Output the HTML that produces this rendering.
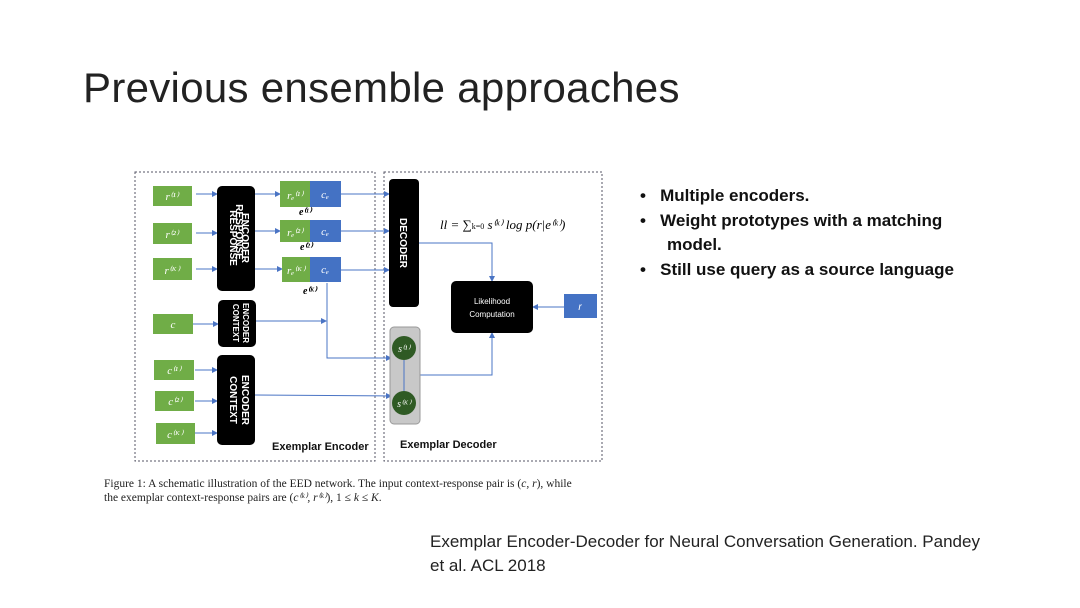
<!DOCTYPE html>
<html><head><meta charset="utf-8"><style>
body{margin:0;width:1080px;height:608px;background:#fff;position:relative;overflow:hidden;font-family:"Liberation Sans",sans-serif}
.t{position:absolute;white-space:nowrap}
</style></head><body>
<div class="t" style="left:83px;top:64px;font-size:42px;color:#222;font-weight:300;letter-spacing:0.3px">Previous ensemble approaches</div>
<svg width="1080" height="608" style="position:absolute;left:0;top:0" font-family="Liberation Serif, serif">
<defs><marker id="a" markerWidth="6" markerHeight="6" refX="5" refY="3" orient="auto"><path d="M0,0L6,3L0,6z" fill="#4a74c4"/></marker></defs>
<rect x="135" y="172" width="240" height="289" fill="none" stroke="#556" stroke-dasharray="2,2"/>
<rect x="384" y="172" width="218" height="289" fill="none" stroke="#556" stroke-dasharray="2,2"/>
<g stroke="#4a74c4" stroke-width="1" fill="none" marker-end="url(#a)">
<line x1="196" y1="194" x2="217" y2="194"/><line x1="196" y1="233" x2="217" y2="233"/><line x1="196" y1="269" x2="217" y2="269"/>
<line x1="255" y1="194" x2="280" y2="194"/><line x1="255" y1="231" x2="280" y2="231"/><line x1="255" y1="269" x2="282" y2="269"/>
<line x1="341" y1="194" x2="389" y2="194"/><line x1="341" y1="231" x2="389" y2="231"/><line x1="341" y1="270" x2="389" y2="270"/>
<line x1="193" y1="324" x2="218" y2="324"/><line x1="195" y1="370" x2="217" y2="370"/><line x1="195" y1="401" x2="217" y2="401"/><line x1="195" y1="433" x2="217" y2="433"/>
<polyline points="256,321 326,321"/>
<polyline points="327,283 327,358 391,358"/>
<polyline points="255,395 391,396"/>
<polyline points="419,243 492,243 492,281"/>
<polyline points="420,375 492,375 492,333"/>
<line x1="564" y1="307" x2="533" y2="307"/>
</g>
<g fill="#70ad47"><rect x="153" y="186" width="39" height="20"/><rect x="153" y="223" width="39" height="21"/><rect x="153" y="258" width="39" height="22"/>
<rect x="280" y="181" width="30" height="26"/><rect x="280" y="220" width="30" height="22"/><rect x="282" y="257" width="28" height="25"/>
<rect x="153" y="314" width="40" height="20"/><rect x="154" y="360" width="40" height="20"/><rect x="155" y="391" width="39" height="20"/><rect x="156" y="423" width="39" height="21"/></g>
<g fill="#4472c4"><rect x="310" y="181" width="31" height="26"/><rect x="310" y="220" width="31" height="22"/><rect x="310" y="257" width="31" height="25"/><rect x="564" y="294" width="33" height="24"/></g>
<g fill="#000"><rect x="217" y="186" width="38" height="105" rx="5"/><rect x="218" y="300" width="38" height="47" rx="5"/><rect x="217" y="355" width="38" height="90" rx="5"/>
<rect x="389" y="179" width="30" height="128" rx="4"/><rect x="451" y="281" width="82" height="52" rx="5"/></g>
<rect x="390" y="327" width="30" height="97" rx="4" fill="#c8c8c8" stroke="#999"/>
<line x1="404" y1="360" x2="404" y2="392" stroke="#4a74c4"/>
<circle cx="404" cy="348" r="12" fill="#2f5a24"/><circle cx="404" cy="403" r="12" fill="#2f5a24"/>
<g fill="#fff" font-family="Liberation Sans, sans-serif" font-weight="bold" font-size="10" text-anchor="middle">
<text transform="translate(236,238) rotate(90)" x="-6">RESPONSE</text><text transform="translate(236,238) rotate(90)" x="0" y="-11" dy="0"> </text>
<text transform="translate(230,238) rotate(90)">RESPONSE</text><text transform="translate(242,238) rotate(90)" y="0">ENCODER</text>
<text transform="translate(233,323) rotate(90)" font-size="8">CONTEXT</text><text transform="translate(243,323) rotate(90)" font-size="8">ENCODER</text>
<text transform="translate(230,400) rotate(90)">CONTEXT</text><text transform="translate(242,400) rotate(90)">ENCODER</text>
<text transform="translate(400,243) rotate(90)">DECODER</text>
<text x="492" y="304" font-size="8" font-weight="normal">Likelihood</text><text x="492" y="317" font-size="8" font-weight="normal">Computation</text>
<text x="580" y="310" font-style="italic" font-weight="normal">r</text></g>
<g fill="#fff" font-style="italic" font-size="11" text-anchor="middle">
<text x="172" y="200">r⁽¹⁾</text><text x="172" y="238">r⁽²⁾</text><text x="172" y="274">r⁽ᴷ⁾</text>
<text x="295" y="199">rₑ⁽¹⁾</text><text x="295" y="236">rₑ⁽²⁾</text><text x="296" y="274">rₑ⁽ᴷ⁾</text>
<text x="325" y="198">cₑ</text><text x="325" y="235">cₑ</text><text x="325" y="273">cₑ</text>
<text x="173" y="328">c</text><text x="174" y="374">c⁽¹⁾</text><text x="175" y="405">c⁽²⁾</text><text x="175" y="438">c⁽ᴷ⁾</text>
<text x="404" y="352" font-size="10">s⁽¹⁾</text><text x="404" y="407" font-size="10">s⁽ᴷ⁾</text></g>
<g font-style="italic" font-weight="bold" font-size="10" fill="#000"><text x="299" y="215">e⁽¹⁾</text><text x="300" y="250">e⁽²⁾</text><text x="303" y="294">e⁽ᴷ⁾</text></g>
<text x="440" y="229" font-size="13" font-style="italic">ll = ∑<tspan font-size="8" font-style="normal">k=0</tspan> s⁽ᵏ⁾ log p(r|e⁽ᵏ⁾)</text>
<g font-family="Liberation Sans, sans-serif" font-weight="bold" font-size="11" fill="#111"><text x="272" y="450">Exemplar Encoder</text><text x="400" y="448">Exemplar Decoder</text></g>
<g font-size="11.5" fill="#222"><text x="104" y="487">Figure 1: A schematic illustration of the EED network. The input context-response pair is (<tspan font-style="italic">c, r</tspan>), while</text>
<text x="104" y="501">the exemplar context-response pairs are (<tspan font-style="italic">c⁽ᵏ⁾, r⁽ᵏ⁾</tspan>), 1 ≤ <tspan font-style="italic">k</tspan> ≤ <tspan font-style="italic">K</tspan>.</text></g>
</svg>
<div class="t" style="left:640px;top:184px;font-size:17px;font-weight:bold;color:#111;line-height:24.5px">
<div>•&nbsp;&nbsp;&nbsp;Multiple encoders.</div>
<div>•&nbsp;&nbsp;&nbsp;Weight prototypes with a matching</div>
<div style="padding-left:27px">model.</div>
<div>•&nbsp;&nbsp;&nbsp;Still use query as a source language</div></div>
<div class="t" style="left:430px;top:530px;font-size:17px;color:#222;line-height:24px">Exemplar Encoder-Decoder for Neural Conversation Generation. Pandey<br>et al. ACL 2018</div>
</body></html>
